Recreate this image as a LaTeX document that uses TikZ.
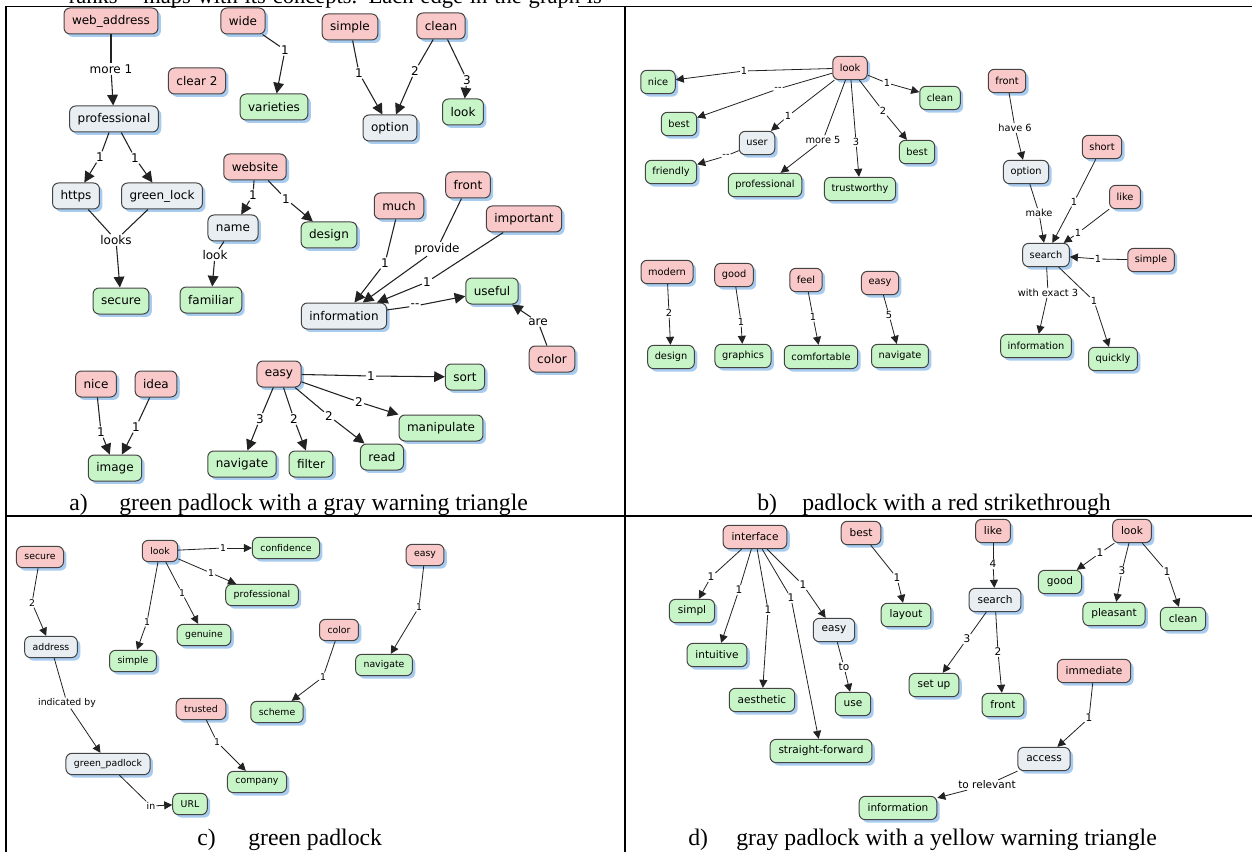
\documentclass[tikz,border=0pt]{standalone}
\usepackage{fontspec}
\newfontfamily\nodefont{DejaVu Sans}
\newfontfamily\capfont{Liberation Serif}
\usetikzlibrary{arrows.meta,shadows}
\definecolor{pinkfill}{HTML}{F9C8C8}
\definecolor{greenfill}{HTML}{C8F5C8}
\definecolor{grayfill}{HTML}{E8EEF2}
\definecolor{shadowblue}{HTML}{A8CCF0}
\definecolor{nodeborder}{HTML}{444444}
\definecolor{edgecol}{HTML}{222222}
\tikzset{
 cbox/.style={rounded corners=4.5pt, draw=nodeborder, line width=0.75pt, inner ysep=0pt,
   drop shadow={shadow xshift=2.2pt, shadow yshift=-2.2pt, fill=shadowblue, opacity=1}},
 pk/.style={cbox, fill=pinkfill},
 gn/.style={cbox, fill=greenfill},
 gy/.style={cbox, fill=grayfill},
 szA/.style={font=\nodefont\fontsize{9}{10}\selectfont, minimum height=19.5pt, inner xsep=6pt},
 szB/.style={font=\nodefont\fontsize{7.35}{8.5}\selectfont, minimum height=17.5pt, inner xsep=5.3pt},
 szC/.style={font=\nodefont\fontsize{7}{8}\selectfont, minimum height=16pt, inner xsep=6pt},
 szD/.style={font=\nodefont\fontsize{7.9}{9}\selectfont, minimum height=17.5pt, inner xsep=6.3pt},
 lbA/.style={font=\nodefont\fontsize{9}{10}\selectfont, fill=white, inner sep=0.8pt},
 lbB/.style={font=\nodefont\fontsize{7.35}{8.5}\selectfont, fill=white, inner sep=0.6pt},
 lbC/.style={font=\nodefont\fontsize{7}{8}\selectfont, fill=white, inner sep=0.6pt},
 lbD/.style={font=\nodefont\fontsize{7.9}{9}\selectfont, fill=white, inner sep=0.6pt},
 edA/.style={draw=edgecol, line width=0.8pt},
 arA/.style={edA, -{Triangle[length=8pt,width=8pt]}},
 edS/.style={draw=edgecol, line width=0.6pt},
 arS/.style={edS, -{Triangle[length=6pt,width=6pt]}},
 tbl/.style={draw=black, line width=1.4pt},
 tblthick/.style={draw=black, line width=2pt},
 captext/.style={font=\capfont\fontsize{17.8}{20}\selectfont, inner sep=0pt, anchor=base west},
 headtext/.style={font=\capfont\fontsize{16.9}{19}\selectfont, inner sep=0pt},
}
\begin{document}
\begin{tikzpicture}[x=0.75pt,y=-0.75pt]
\fill[white] (0,0) rectangle (1252,852);
\useasboundingbox (0,0) rectangle (1252,852);
% heading fragment
\node[headtext, anchor=base east] (hd1) at (128,3.5) {ranks”};
\node[headtext, anchor=base west] (hd2) at (143,3.5) {\makebox[344pt][s]{maps with its concepts. Each edge in the graph is}};
% table
\draw[tbl] (6,6.5) -- (322,6.5);
\draw[tbl] (578,6.5) -- (1252,6.5);
\draw[tblthick] (6,6.5) -- (6,852);
\draw[tblthick] (625,6.5) -- (625,852);
\draw[tbl] (6,516) -- (1252,516);

% ---------------- panel a
\node[pk,szA] (aWeb) at (111,21) {web\_address};
\node[pk,szA] (aWide) at (243,21) {wide};
\node[pk,szA] (aSimple) at (350,27) {simple};
\node[pk,szA] (aClean) at (441,26) {clean};
\node[pk,szA] (aClear) at (197,81) {clear 2};
\node[gn,szA] (aVar) at (274,107) {varieties};
\node[gy,szA] (aOption) at (390,128) {option};
\node[gn,szA] (aLook) at (463,112) {look};
\node[gy,szA] (aProf) at (114,119) {professional};
\node[gy,szA] (aHttps) at (76,196) {https};
\node[gy,szA] (aGreen) at (162,196) {green\_lock};
\node[pk,szA] (aWebsite) at (255,167) {website};
\node[gy,szA] (aName) at (233,228) {name};
\node[gn,szA] (aDesign) at (329,235) {design};
\node[pk,szA] (aMuch) at (399,206) {much};
\node[pk,szA] (aFront) at (468,185) {front};
\node[pk,szA] (aImp) at (524,219) {important};
\node[gn,szA] (aUseful) at (492,291) {useful};
\node[gy,szA] (aInfo) at (344,316) {information};
\node[gn,szA] (aFam) at (211,300) {familiar};
\node[gn,szA] (aSecure) at (121,301) {secure};
\node[pk,szA] (aColor) at (552,359) {color};
\node[pk,szA] (aNice) at (96,384) {nice};
\node[pk,szA] (aIdea) at (156,384) {idea};
\node[gn,szA] (aImage) at (115,468) {image};
\node[pk,szA] (aEasy) at (279,374) {easy};
\node[gn,szA] (aSort) at (465,377) {sort};
\node[gn,szA] (aManip) at (441,428) {manipulate};
\node[gn,szA] (aNav) at (242,464) {navigate};
\node[gn,szA] (aFilter) at (311,464) {filter};
\node[gn,szA] (aRead) at (382,457) {read};

\node[lbA] (aL1) at (111,69) {more 1};
\node[lbA] (aL2) at (285,50) {1};
\node[lbA] (aL3) at (359,73) {1};
\node[lbA] (aL4) at (415,71) {2};
\node[lbA] (aL5) at (467,80) {3};
\node[lbA] (aL6) at (100,157) {1};
\node[lbA] (aL7) at (135,158) {1};
\node[lbA] (aL8) at (116,240) {looks};
\node[lbA] (aL9) at (253,195) {1};
\node[lbA] (aL10) at (286,199) {1};
\node[lbA] (aL11) at (215,255) {look};
\node[lbA] (aL12) at (385,263) {1};
\node[lbA] (aL13) at (437,249) {provide};
\node[lbA] (aL14) at (427,282) {1};
\node[lbA] (aL15) at (415,306) {-{}-};
\node[lbA] (aL16) at (538,322) {are};
\node[lbA] (aL17) at (101,432) {1};
\node[lbA] (aL18) at (136,427) {1};
\node[lbA] (aL19) at (371,376) {1};
\node[lbA] (aL20) at (359,402) {2};
\node[lbA] (aL21) at (260,419) {3};
\node[lbA] (aL22) at (294,419) {2};
\node[lbA] (aL23) at (329,416) {2};

\foreach \s/\l/\t in {aWeb/aL1/aProf, aWide/aL2/aVar, aSimple/aL3/aOption, aClean/aL4/aOption,
  aClean/aL5/aLook, aProf/aL6/aHttps, aProf/aL7/aGreen, aWebsite/aL9/aName, aWebsite/aL10/aDesign,
  aName/aL11/aFam, aMuch/aL12/aInfo, aFront/aL13/aInfo, aImp/aL14/aInfo, aInfo/aL15/aUseful,
  aColor/aL16/aUseful, aNice/aL17/aImage, aIdea/aL18/aImage, aEasy/aL19/aSort, aEasy/aL20/aManip,
  aEasy/aL21/aNav, aEasy/aL22/aFilter, aEasy/aL23/aRead}
  {\draw[edA] (\s) -- (\l); \draw[arA] (\l) -- (\t);}
\draw[edA] (aHttps) -- (aL8);
\draw[edA] (aGreen) -- (aL8);
\draw[arA] (aL8) -- (aSecure);

% ---------------- panel b
\node[pk,szB] (bLook) at (850,68) {look};
\node[gn,szB] (bNice) at (658,82) {nice};
\node[gn,szB] (bClean) at (940,98) {clean};
\node[gn,szB] (bBest1) at (679,124) {best};
\node[gy,szB] (bUser) at (757,143) {user};
\node[gn,szB] (bBest2) at (917,152) {best};
\node[gn,szB] (bFriendly) at (671,172) {friendly};
\node[gn,szB] (bProf) at (765,185) {professional};
\node[gn,szB] (bTrust) at (860,189) {trustworthy};
\node[pk,szB] (bFront) at (1007,81) {front};
\node[gy,szB] (bOption) at (1026,172) {option};
\node[pk,szB] (bShort) at (1102,147) {short};
\node[pk,szB] (bLike) at (1125,197) {like};
\node[gy,szB] (bSearch) at (1046,255) {search};
\node[pk,szB] (bSimple) at (1151,260) {simple};
\node[gn,szB] (bInfo) at (1036,346) {information};
\node[gn,szB] (bQuick) at (1113,359) {quickly};
\node[pk,szB] (bModern) at (667,272) {modern};
\node[pk,szB] (bGood) at (734,275) {good};
\node[pk,szB] (bFeel) at (806,280) {feel};
\node[pk,szB] (bEasy) at (880,283) {easy};
\node[gn,szB] (bDesign) at (671,357) {design};
\node[gn,szB] (bGraphics) at (743,356) {graphics};
\node[gn,szB] (bComf) at (821,357) {comfortable};
\node[gn,szB] (bNav) at (900,356) {navigate};

\node[lbB] (bL1) at (744,71) {1};
\node[lbB] (bL2) at (887,83) {1};
\node[lbB] (bL3) at (778,89) {-{}-};
\node[lbB] (bL4) at (788,116) {1};
\node[lbB] (bL5) at (823,140) {more 5};
\node[lbB] (bL6) at (856,142) {3};
\node[lbB] (bL7) at (883,111) {2};
\node[lbB] (bL8) at (726,156) {-{}-};
\node[lbB] (bL9) at (1015,128) {have 6};
\node[lbB] (bL10) at (1039,213) {make};
\node[lbB] (bL11) at (1074,202) {1};
\node[lbB] (bL12) at (1078,233) {1};
\node[lbB] (bL13) at (1098,259) {1};
\node[lbB] (bL14) at (1048,293) {with exact 3};
\node[lbB] (bL15) at (1094,301) {1};
\node[lbB] (bL16) at (669,313) {2};
\node[lbB] (bL17) at (741,322) {1};
\node[lbB] (bL18) at (813,317) {1};
\node[lbB] (bL19) at (889,315) {5};

\foreach \s/\l/\t in {bLook/bL1/bNice, bLook/bL2/bClean, bLook/bL3/bBest1, bLook/bL4/bUser,
  bLook/bL5/bProf, bLook/bL6/bTrust, bLook/bL7/bBest2, bUser/bL8/bFriendly,
  bFront/bL9/bOption, bOption/bL10/bSearch, bShort/bL11/bSearch, bLike/bL12/bSearch,
  bSimple/bL13/bSearch, bSearch/bL14/bInfo, bSearch/bL15/bQuick,
  bModern/bL16/bDesign, bGood/bL17/bGraphics, bFeel/bL18/bComf, bEasy/bL19/bNav}
  {\draw[edS] (\s) -- (\l); \draw[arS] (\l) -- (\t);}

% ---------------- panel c
\node[pk,szC] (cSecure) at (40,557) {secure};
\node[pk,szC] (cLook) at (160,551) {look};
\node[gn,szC] (cConf) at (286,548) {confidence};
\node[gn,szC] (cProf) at (262,595) {professional};
\node[gn,szC] (cGenuine) at (204,635) {genuine};
\node[gn,szC] (cSimple) at (133,661) {simple};
\node[gy,szC] (cAddress) at (51,647) {address};
\node[pk,szC] (cTrusted) at (201,709) {trusted};
\node[gn,szC] (cScheme) at (277,712) {scheme};
\node[gy,szC] (cGP) at (108,764) {green\_padlock};
\node[gn,szC] (cCompany) at (257,782) {company};
\node[gn,szC] (cURL) at (190,804) {URL};
\node[pk,szC] (cEasy) at (425,555) {easy};
\node[pk,szC] (cColor) at (339,630) {color};
\node[gn,szC] (cNav) at (384,665) {navigate};

\node[lbC] (cL1) at (32,603) {2};
\node[lbC] (cL2) at (223,548) {1};
\node[lbC] (cL3) at (211,573) {1};
\node[lbC] (cL4) at (182,593) {1};
\node[lbC] (cL5) at (147,622) {1};
\node[lbC] (cL6) at (67,703) {indicated by};
\node[lbC] (cL7) at (151,806) {in};
\node[lbC] (cL8) at (217,742) {1};
\node[lbC] (cL9) at (323,677) {1};
\node[lbC] (cL10) at (419,607) {1};

\foreach \s/\l/\t in {cSecure/cL1/cAddress, cLook/cL2/cConf, cLook/cL3/cProf, cLook/cL4/cGenuine,
  cLook/cL5/cSimple, cAddress/cL6/cGP, cGP/cL7/cURL, cTrusted/cL8/cCompany,
  cColor/cL9/cScheme, cEasy/cL10/cNav}
  {\draw[edS] (\s) -- (\l); \draw[arS] (\l) -- (\t);}

% ---------------- panel d
\node[pk,szD] (dInterface) at (755,537) {interface};
\node[pk,szD] (dBest) at (861,533) {best};
\node[gn,szD] (dSimpl) at (692,611) {simpl};
\node[gn,szD] (dIntuitive) at (717,655) {intuitive};
\node[gn,szD] (dAesthetic) at (762,700) {aesthetic};
\node[gy,szD] (dEasy) at (834,630) {easy};
\node[gn,szD] (dUse) at (853,704) {use};
\node[gn,szD] (dStraight) at (821,751) {straight-forward};
\node[gn,szD] (dLayout) at (906,615) {layout};
\node[gn,szD] (dInfo) at (898,808) {information};
\node[pk,szD] (dLike) at (993,531) {like};
\node[pk,szD] (dLook) at (1132,531) {look};
\node[gy,szD] (dSearch) at (995,600) {search};
\node[gn,szD] (dGood) at (1060,582) {good};
\node[gn,szD] (dPleasant) at (1114,614) {pleasant};
\node[gn,szD] (dClean) at (1183,619) {clean};
\node[gn,szD] (dSetup) at (934,685) {set up};
\node[gn,szD] (dFront) at (1003,705) {front};
\node[pk,szD] (dImm) at (1094,671) {immediate};
\node[gy,szD] (dAccess) at (1044,759) {access};

\node[lbD] (dL1) at (711,577) {1};
\node[lbD] (dL2) at (739,590) {1};
\node[lbD] (dL3) at (768,610) {1};
\node[lbD] (dL4) at (791,598) {1};
\node[lbD] (dL5) at (803,585) {1};
\node[lbD] (dL6) at (844,667) {to};
\node[lbD] (dL7) at (897,578) {1};
\node[lbD] (dL8) at (993,564) {4};
\node[lbD] (dL9) at (967,639) {3};
\node[lbD] (dL10) at (998,652) {2};
\node[lbD] (dL11) at (1100,553) {1};
\node[lbD] (dL12) at (1122,571) {3};
\node[lbD] (dL13) at (1167,572) {1};
\node[lbD] (dL14) at (1089,718) {1};
\node[lbD] (dL15) at (987,785) {to relevant};

\foreach \s/\l/\t in {dInterface/dL1/dSimpl, dInterface/dL2/dIntuitive, dInterface/dL3/dAesthetic,
  dInterface/dL4/dStraight, dInterface/dL5/dEasy, dEasy/dL6/dUse, dBest/dL7/dLayout,
  dLike/dL8/dSearch, dSearch/dL9/dSetup, dSearch/dL10/dFront, dLook/dL11/dGood,
  dLook/dL12/dPleasant, dLook/dL13/dClean, dImm/dL14/dAccess, dAccess/dL15/dInfo}
  {\draw[edS] (\s) -- (\l); \draw[arS] (\l) -- (\t);}

% ---------------- captions
\node[captext] (capA1) at (69,510) {a)};
\node[captext] (capA2) at (119,510) {green padlock with a gray warning triangle};
\node[captext] (capB1) at (757,510) {b)};
\node[captext] (capB2) at (802,510) {padlock with a red strikethrough};
\node[captext] (capC1) at (197,845) {c)};
\node[captext] (capC2) at (248,845) {green padlock};
\node[captext] (capD1) at (688,845) {d)};
\node[captext] (capD2) at (736,845) {gray padlock with a yellow warning triangle};
\end{tikzpicture}
\end{document}
